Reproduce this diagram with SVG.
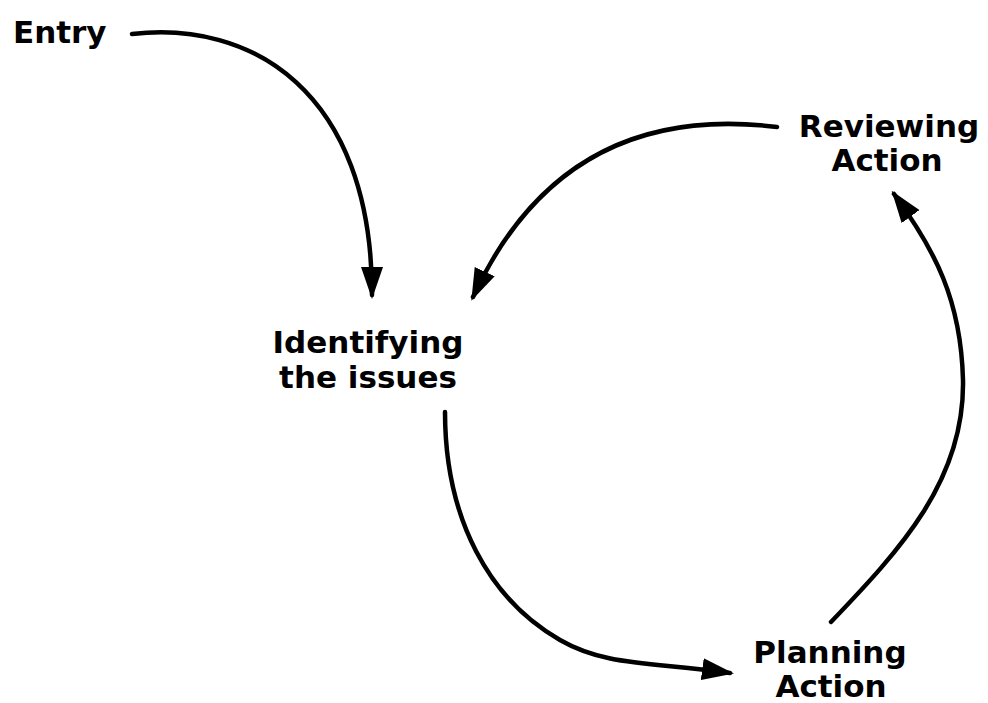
<svg xmlns="http://www.w3.org/2000/svg" width="988" height="703" viewBox="0 0 988 703">
<style>
.lbl{font-family:"DejaVu Sans","Liberation Sans",sans-serif;font-weight:bold;font-size:31px;fill:#000}
.c{text-anchor:middle}
.conn{fill:none;stroke:#000;stroke-width:4.5;stroke-linecap:round}
</style>
<defs>
<marker id="ah" markerUnits="userSpaceOnUse" markerWidth="32" markerHeight="22" viewBox="0 0 32 22" refX="28" refY="11" orient="auto">
<path d="M0,0 L32,11 L0,22 Z" fill="#000"/>
</marker>
</defs>
<rect width="988" height="703" fill="#fff"/>
<g id="connectors">
<path class="conn" marker-end="url(#ah)" d="M132,34 C250,20 372,90 372,295"/>
<path class="conn" marker-end="url(#ah)" d="M777,127 C680,115 550,130 473,297"/>
<path class="conn" marker-end="url(#ah)" d="M445,412 C445,520 490,600 560,640 C605,666 650,662 730,673"/>
<path class="conn" marker-end="url(#ah)" d="M831,622 C900,550 965,480 963,380 C961,300 935,250 894,194"/>
</g>
<g id="entry"><text class="lbl" x="13" y="43">Entry</text></g>
<g id="identifying"><text class="lbl c" x="368" y="353">Identifying</text><text class="lbl c" x="368" y="388">the issues</text></g>
<g id="reviewing"><text class="lbl c" x="889" y="137">Reviewing</text><text class="lbl c" x="887" y="171">Action</text></g>
<g id="planning"><text class="lbl c" x="830" y="663">Planning</text><text class="lbl c" x="831" y="697">Action</text></g>
</svg>
